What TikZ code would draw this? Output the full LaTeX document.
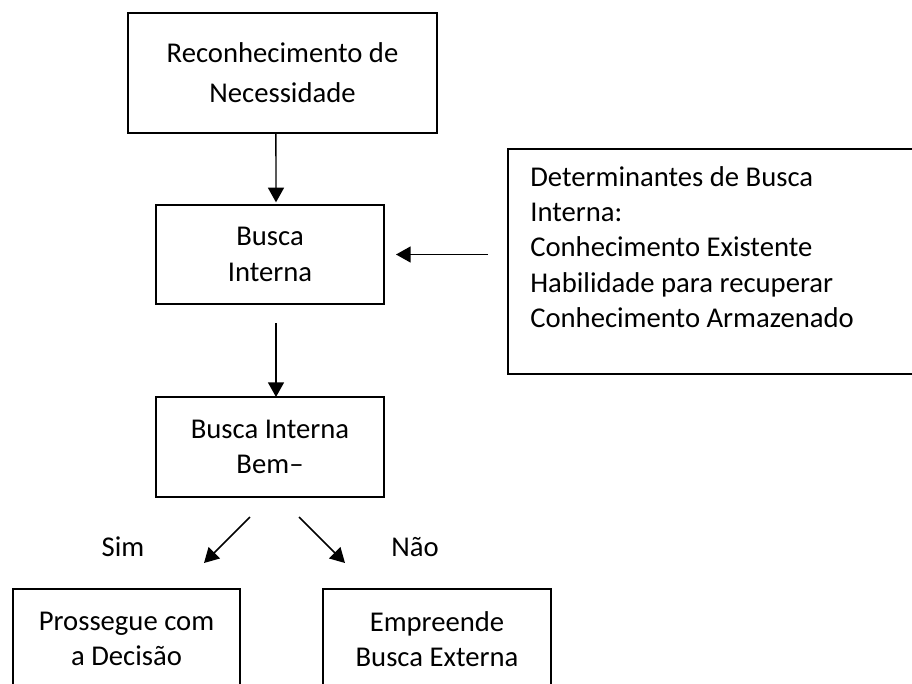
\documentclass[tikz,border=0pt]{standalone}
\usepackage{fontspec}
\setmainfont{Carlito}
\usetikzlibrary{arrows.meta}
\begin{document}
\begin{tikzpicture}[x=0.75pt,y=-0.75pt,
  box/.style={draw,line width=1.1pt,inner sep=0pt,outer sep=0pt,align=center,
    font=\fontsize{21.5}{26.5}\selectfont},
  lbl/.style={inner sep=0pt,font=\fontsize{21.5}{26.5}\selectfont},
  arr/.style={line width=1.1pt,-{Triangle[length=11pt,width=12pt]}}]
\clip (0,0) rectangle (912,684);
\fill[white] (0,0) rectangle (912,684);
\node[box,minimum width=231.75pt,minimum height=90pt,
  font=\fontsize{21.5}{30}\selectfont] (rec) at (282.5,73) {Reconhecimento de\\Necessidade};
\node[box,minimum width=171pt,minimum height=74.25pt] (bi) at (270,254.5) {Busca\\Interna};
\node[box,minimum width=171pt,minimum height=75pt] (bib) at (270,447) {Busca Interna\\Bem–};
\node[box,minimum width=339pt,minimum height=168.75pt] (det) at (734,261.5) {};
\node[lbl,anchor=north west,align=left] (dett) at (530,166)
  {Determinantes de Busca\\Interna:\\Conhecimento Existente\\Habilidade para recuperar\\Conhecimento Armazenado};
\node[box,minimum width=170.25pt,minimum height=75pt] (sim) at (126.5,639) {Prossegue com\\a Decisão};
\node[box,minimum width=171pt,minimum height=75pt] (nao) at (437,639) {Empreende\\Busca Externa};
\node[lbl] (simt) at (123,547) {Sim};
\node[lbl] (naot) at (415,547) {Não};
\coordinate (a1s) at (250,517);
\coordinate (a1e) at (204,563);
\coordinate (a2s) at (299,517);
\coordinate (a2e) at (345,563);
\draw[arr] ([xshift=-4.9pt]rec.south) -- ([xshift=4.5pt,yshift=2pt]bi.north);
\draw[arr,shorten <=14.25pt] ([xshift=4.5pt]bi.south) -- ([xshift=4.5pt]bib.north);
\draw[arr,shorten <=15pt,shorten >=9pt] (det.west |- bi.east) -- (bi.east);
\draw[arr] (a1s) -- (a1e);
\draw[arr] (a2s) -- (a2e);
\end{tikzpicture}
\end{document}
